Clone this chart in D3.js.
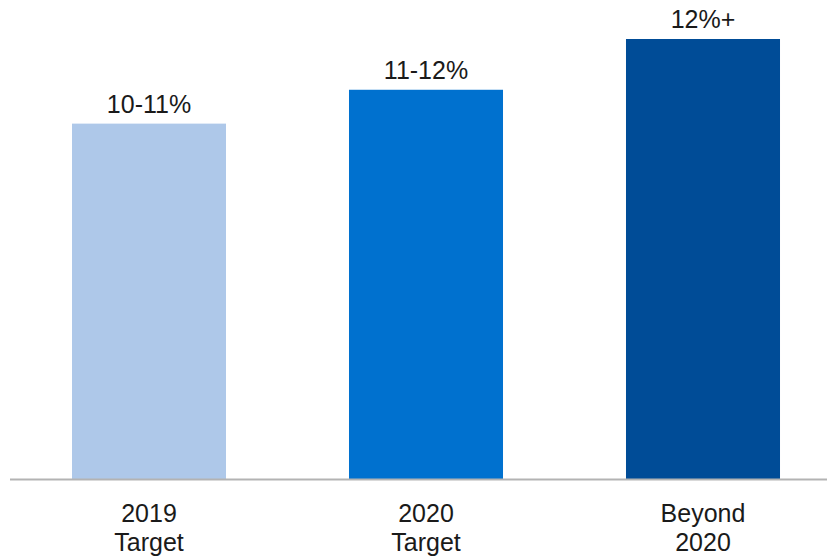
<!DOCTYPE html>
<html>
<head>
<meta charset="utf-8">
<script src="https://cdn.jsdelivr.net/npm/d3@7"></script>
<style>
  body { margin: 0; background: #fff; }
  text { font-family: "Liberation Sans", Arial, Helvetica, sans-serif; fill: #1a1a1a; }
</style>
</head>
<body>
<svg id="chart" width="827" height="559"></svg>
<script>
"use strict";

// categories shown on two lines under the axis
const categories = ["2019 Target", "2020 Target", "Beyond 2020"];
const categoryLines = [["2019", "Target"], ["2020", "Target"], ["Beyond", "2020"]];
// bar heights (mid-point of each target range)
const values = [10.5, 11.5, 13];
const valueLabels = ["10-11%", "11-12%", "12%+"];
const colors = ["#aec8e9", "#0071cf", "#004c97"];

let svg = d3.select("#chart");

let baseline = 479;
let x = d3.scaleBand()
    .domain(categories)
    .range([10.5, 841.5])
    .paddingInner(0.444)
    .paddingOuter(0.222);

let y = d3.scaleLinear()
    .domain([0, 13])
    .range([baseline, 39]);

svg.selectAll(".bar")
    .data(categories)
    .enter().append("rect")
    .attr("class", "bar")
    .attr("x", d => x(d))
    .attr("y", (d, i) => y(values[i]))
    .attr("width", x.bandwidth())
    .attr("height", (d, i) => baseline - y(values[i]))
    .style("fill", (d, i) => colors[i]);

// value labels above the bars
svg.selectAll(".value-label")
    .data(categories)
    .enter().append("text")
    .attr("class", "value-label")
    .attr("x", d => x(d) + x.bandwidth() / 2)
    .attr("y", (d, i) => y(values[i]) - 11)
    .attr("text-anchor", "middle")
    .style("font-size", "25px")
    .text((d, i) => valueLabels[i]);

// axis line
svg.append("line")
    .attr("x1", 10)
    .attr("x2", 827)
    .attr("y1", baseline + 0.5)
    .attr("y2", baseline + 0.5)
    .style("stroke", "#b3b3b3")
    .style("stroke-width", 2);

// category labels
svg.selectAll(".cat-label")
    .data(categories)
    .enter().append("text")
    .attr("class", "cat-label")
    .attr("x", d => x(d) + x.bandwidth() / 2)
    .attr("y", 522)
    .attr("text-anchor", "middle")
    .style("font-size", "25px")
    .each(function(d, i) {
        let t = d3.select(this);
        categoryLines[i].forEach((line, j) => {
            t.append("tspan")
                .attr("x", x(d) + x.bandwidth() / 2)
                .attr("dy", j === 0 ? 0 : 28.5)
                .text(line);
        });
    });
</script>
</body>
</html>
